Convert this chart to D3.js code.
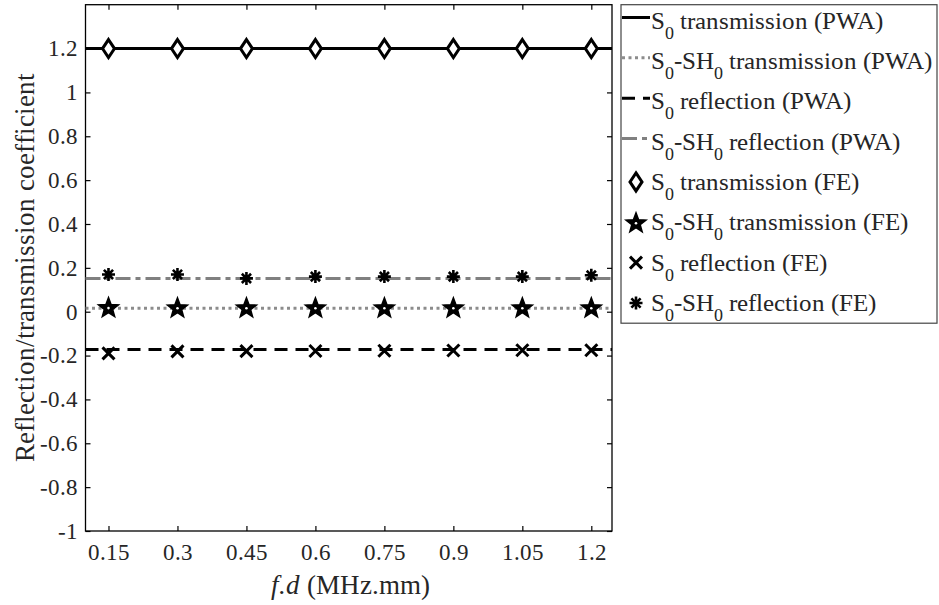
<!DOCTYPE html>
<html>
<head>
<meta charset="utf-8">
<script src="https://cdn.jsdelivr.net/npm/d3@7"></script>
<style>
	@font-face {
		font-family: "ChartSerif";
		font-style: normal;
		src: local("Liberation Serif"), local("LiberationSerif"), local("LiberationSerif-Regular"), local("Times New Roman"), local("Tinos"), local("DejaVu Serif");
	}
	@font-face {
		font-family: "ChartSerif";
		font-style: italic;
		src: local("Liberation Serif Italic"), local("LiberationSerif-Italic"), local("Times New Roman Italic"), local("DejaVu Serif Italic");
	}
</style>
</head>
<body style="margin:0">
<script>
// data
var fd = [0.15, 0.3, 0.45, 0.6, 0.75, 0.9, 1.05, 1.2]
var lineFd = [0.1, 1.245]
var s0TransPWA = [1.2, 1.2]
var s0sh0TransPWA = [0.016, 0.016]
var s0ReflPWA = [-0.172, -0.172]
var s0sh0ReflPWA = [0.152, 0.152]
var s0TransFE = [1.2, 1.2, 1.2, 1.2, 1.2, 1.2, 1.2, 1.2]
var s0sh0TransFE = [0.021, 0.02, 0.02, 0.02, 0.02, 0.02, 0.02, 0.02]
var s0ReflFE = [-0.19, -0.181, -0.18, -0.179, -0.178, -0.177, -0.176, -0.176]
var s0sh0ReflFE = [0.17, 0.17, 0.152, 0.16, 0.16, 0.16, 0.16, 0.166]
var yTicks = [-1, -0.8, -0.6, -0.4, -0.2, 0, 0.2, 0.4, 0.6, 0.8, 1, 1.2]
var xTicks = fd

var FONT = "ChartSerif, 'Liberation Serif', 'Times New Roman', Tinos, 'DejaVu Serif', serif"

function drawChart(){
	var width = 939, height = 605
	var plot = {left: 85.5, right: 612, top: 4.7, bottom: 531}

	d3.select("body").selectAll("svg").remove()
	var svg = d3.select("body").append("svg")
		.attr("width", width)
		.attr("height", height)

	var x = d3.scaleLinear().domain([0.1, 1.245]).range([plot.left, plot.right])
	var y = d3.scaleLinear().domain([-1, 1.4]).range([plot.bottom, plot.top])

	function serif(sel, size){
		sel.style("font-family", FONT).attr("font-size", size)
	}

	// axes, ticks pointing inward
	function styleAxis(g){
		g.attr("font-family", null).attr("font-size", null)
		g.selectAll(".domain").remove()
		g.selectAll(".tick line").attr("stroke", "#000").attr("stroke-width", 1.2)
		g.selectAll("text").attr("fill", "#262626").call(serif, 23)
	}
	svg.append("g").attr("transform", "translate(0," + plot.bottom + ")")
		.call(d3.axisBottom(x).tickValues(xTicks).tickSize(-5).tickPadding(13).tickFormat(function(d){ return String(d) }))
		.call(styleAxis)
	svg.append("g").attr("transform", "translate(0," + plot.top + ")")
		.call(d3.axisTop(x).tickValues(xTicks).tickSize(-5).tickFormat(""))
		.call(styleAxis)
	svg.append("g").attr("transform", "translate(" + plot.left + ",0)")
		.call(d3.axisLeft(y).tickValues(yTicks).tickSize(-5).tickPadding(8).tickFormat(function(d){ return String(d) }))
		.call(styleAxis)
	svg.append("g").attr("transform", "translate(" + plot.right + ",0)")
		.call(d3.axisRight(y).tickValues(yTicks).tickSize(-5).tickFormat(""))
		.call(styleAxis)

	svg.append("rect")
		.attr("x", plot.left).attr("y", plot.top)
		.attr("width", plot.right - plot.left).attr("height", plot.bottom - plot.top)
		.attr("fill", "none").attr("stroke", "#000").attr("stroke-width", 1.3)

	// axis labels
	svg.append("text")
		.attr("x", 350).attr("y", 594)
		.attr("text-anchor", "middle")
		.attr("fill", "#262626")
		.call(serif, 27)
		.call(function(t){
			t.append("tspan").style("font-style", "italic").text("f.d")
			t.append("tspan").text(" (MHz.mm)")
		})
	svg.append("text")
		.attr("transform", "translate(34," + ((plot.top + plot.bottom) / 2) + ") rotate(-90)")
		.attr("text-anchor", "middle")
		.attr("fill", "#262626")
		.call(serif, 26.5)
		.text("Reflection/transmission coefficient")

	// PWA lines
	var lineStyles = [
		{vals: s0TransPWA, color: "#000", dash: null, w: 3},
		{vals: s0sh0TransPWA, color: "#8c8c8c", dash: "3,3.5", w: 3},
		{vals: s0ReflPWA, color: "#000", dash: "13,8", w: 3},
		{vals: s0sh0ReflPWA, color: "#808080", dash: "15,5,5,5", w: 3}
	]
	var line = d3.line().x(function(d){ return x(d[0]) }).y(function(d){ return y(d[1]) })
	lineStyles.forEach(function(s){
		svg.append("path")
			.datum(lineFd.map(function(f, i){ return [f, s.vals[i]] }))
			.attr("d", line)
			.attr("fill", "none")
			.attr("stroke", s.color)
			.attr("stroke-width", s.w)
			.attr("stroke-dasharray", s.dash)
	})

	// marker shapes
	function diamond(g){
		g.append("path").attr("d", "M0,-9L6,0L0,9L-6,0Z")
			.attr("fill", "#fff").attr("stroke", "#000").attr("stroke-width", 3)
	}
	function star(g){
		var pts = []
		for(var i = 0; i < 10; i++){
			var r = i % 2 == 0 ? 10.5 : 4.4
			var a = -Math.PI / 2 + i * Math.PI / 5
			pts.push([r * Math.cos(a), r * Math.sin(a) + 1])
		}
		g.append("path").attr("d", "M" + pts.join("L") + "Z")
			.attr("fill", "#000").attr("stroke", "#000").attr("stroke-width", 1.5).attr("stroke-linejoin", "miter")
		g.append("circle").attr("cx", 0).attr("cy", 1).attr("r", 1.3).attr("fill", "#fff")
	}
	function cross(g){
		g.append("path").attr("d", "M-6,-6L6,6M-6,6L6,-6")
			.attr("stroke", "#000").attr("stroke-width", 3)
	}
	function asterisk(g){
		g.append("path").attr("d", "M-6.5,0L6.5,0M0,-6.5L0,6.5M-4.6,-4.6L4.6,4.6M-4.6,4.6L4.6,-4.6")
			.attr("stroke", "#000").attr("stroke-width", 2.6)
	}

	var markerSeries = [
		{vals: s0TransFE, draw: diamond},
		{vals: s0sh0TransFE, draw: star},
		{vals: s0ReflFE, draw: cross},
		{vals: s0sh0ReflFE, draw: asterisk}
	]
	markerSeries.forEach(function(s){
		svg.append("g").selectAll("g")
			.data(fd.map(function(f, i){ return [f, s.vals[i]] }))
			.enter().append("g")
			.attr("transform", function(d){ return "translate(" + x(d[0]) + "," + y(d[1]) + ")" })
			.each(function(){ s.draw(d3.select(this)) })
	})

	// legend
	var legendItems = [
		{parts: [["S", 0], ["0", 1], [" transmission (PWA)", 0]], line: lineStyles[0]},
		{parts: [["S", 0], ["0", 1], ["-SH", 0], ["0", 1], [" transmission (PWA)", 0]], line: lineStyles[1]},
		{parts: [["S", 0], ["0", 1], [" reflection (PWA)", 0]], line: lineStyles[2]},
		{parts: [["S", 0], ["0", 1], ["-SH", 0], ["0", 1], [" reflection (PWA)", 0]], line: lineStyles[3]},
		{parts: [["S", 0], ["0", 1], [" transmission (FE)", 0]], marker: diamond},
		{parts: [["S", 0], ["0", 1], ["-SH", 0], ["0", 1], [" transmission (FE)", 0]], marker: star},
		{parts: [["S", 0], ["0", 1], [" reflection (FE)", 0]], marker: cross},
		{parts: [["S", 0], ["0", 1], ["-SH", 0], ["0", 1], [" reflection (FE)", 0]], marker: asterisk}
	]
	var legend = svg.append("g")
	legend.append("rect")
		.attr("x", 621).attr("y", 4.7).attr("width", 316).attr("height", 318.5)
		.attr("fill", "#fff").attr("stroke", "#444").attr("stroke-width", 1.2)

	var rowY = d3.scaleLinear().domain([0, 7]).range([20.5, 303])
	legendItems.forEach(function(item, i){
		var cy = rowY(i)
		var row = legend.append("g")
		if(item.line){
			row.append("line")
				.attr("x1", 622).attr("x2", 650).attr("y1", cy - 3).attr("y2", cy - 3)
				.attr("stroke", item.line.color).attr("stroke-width", item.line.w)
				.attr("stroke-dasharray", item.line.dash)
		} else {
			var m = row.append("g").attr("transform", "translate(636," + cy + ")")
			item.marker(m)
		}
		var t = row.append("text")
			.attr("x", 651).attr("y", cy + 8)
			.attr("fill", "#262626")
			.call(serif, 25)
		item.parts.forEach(function(p, j){
			var dy = 0
			if(p[1]) dy = 10
			else if(j > 0 && item.parts[j - 1][1]) dy = -10
			t.append("tspan")
				.attr("font-size", p[1] ? 17.5 : 25)
				.attr("dy", dy)
				.text(p[0])
		})
	})
}

drawChart()
// redraw once the serif face is ready
if(document.fonts && document.fonts.load){
	Promise.all([
		document.fonts.load("25px ChartSerif"),
		document.fonts.load("italic 25px ChartSerif")
	]).then(drawChart, drawChart)
}
</script>
</body>
</html>
